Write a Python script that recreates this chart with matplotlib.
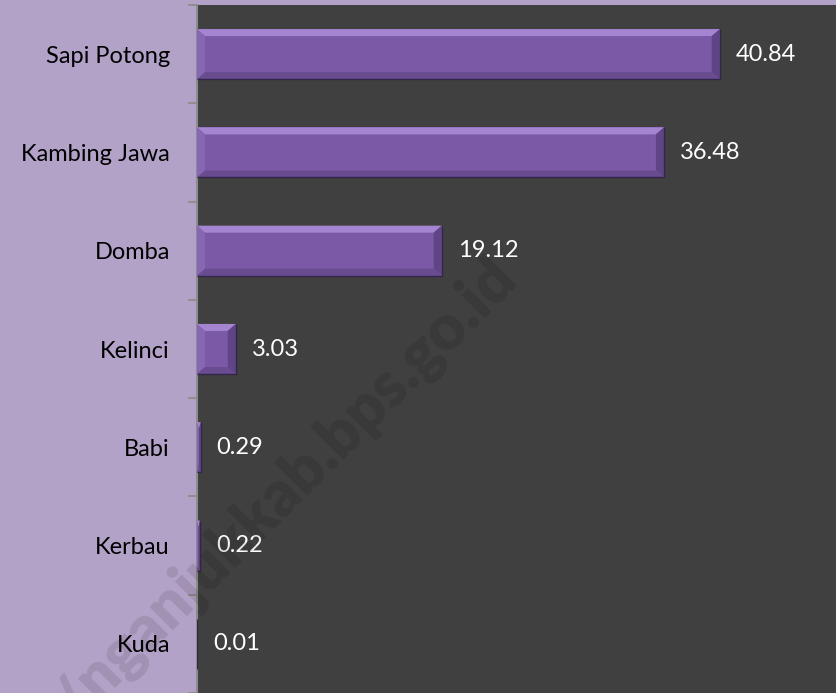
import matplotlib
matplotlib.use("Agg")
import matplotlib.pyplot as plt
from matplotlib.patches import Polygon

categories = ["Sapi Potong", "Kambing Jawa", "Domba", "Kelinci", "Babi", "Kerbau", "Kuda"]
values = [40.84, 36.48, 19.12, 3.03, 0.29, 0.22, 0.01]
value_labels = ["40.84", "36.48", "19.12", "3.03", "0.29", "0.22", "0.01"]

W, H = 837, 693
fig = plt.figure(figsize=(W / 100, H / 100), dpi=100, facecolor="#B3A2C7")
ax = fig.add_axes([197 / W, 0, 1 - 197 / W, 688 / H])
ax.set_facecolor("#404040")

FONT = "Lato"
bar_h = 0.51
ypos = list(range(len(categories)))
ax.barh(ypos, values, height=bar_h, color="#7C59A6", edgecolor="none", zorder=2)

ax.set_xlim(0, 50)
ax.set_ylim(len(categories) - 0.5, -0.5)

# bevel decoration built from the bars' own data coordinates
px_x = 50 / (W - 197)
px_y = 7 / 688
bw_x, bw_y = 8 * px_x, 7 * px_y
for y, v in zip(ypos, values):
    if v <= 0:
        continue
    t, b = y - bar_h / 2, y + bar_h / 2
    bx = min(bw_x, v / 2)
    by = bw_y
    top = Polygon([(0, t), (v, t), (v - bx, t + by), (bx, t + by)], closed=True,
                  facecolor="#A584D2", edgecolor="none", zorder=3)
    left = Polygon([(0, t), (bx, t + by), (bx, b - by), (0, b)], closed=True,
                   facecolor="#8767B3", edgecolor="none", zorder=3)
    right = Polygon([(v, t), (v, b), (v - bx, b - by), (v - bx, t + by)], closed=True,
                    facecolor="#5F4488", edgecolor="none", zorder=3)
    bottom = Polygon([(0, b), (bx, b - by), (v - bx, b - by), (v, b)], closed=True,
                     facecolor="#694C90", edgecolor="none", zorder=3)
    for p in (top, left, right, bottom):
        ax.add_patch(p)
    ax.plot([v, v, 0], [t, b, b], color="#33244A", lw=1.0, zorder=4, solid_capstyle="butt")

for y, v, lab in zip(ypos, values, value_labels):
    ax.annotate(lab, (v, y), xytext=(11.5, 0), textcoords="offset points",
                va="center", ha="left", color="white", fontsize=17, family=FONT, zorder=5)

ax.set_yticks(ypos)
ax.set_yticklabels(categories, fontsize=17, family=FONT, color="black")
ax.set_yticks([k + 0.5 for k in range(-1, len(categories))], minor=True)
ax.tick_params(axis="y", which="major", length=0, pad=19.5)
ax.tick_params(axis="y", which="minor", length=6.5, width=1.3, color="#8C8C8C", direction="out")
ax.set_xticks([])
for s in ("top", "right", "bottom"):
    ax.spines[s].set_visible(False)
ax.spines["left"].set_color("#8C8C8C")
ax.spines["left"].set_linewidth(1.5)

fig.text(520 / W, 1 - 280 / H, "https://nganjukkab.bps.go.id", rotation=45,
         rotation_mode="anchor", ha="right", va="baseline", fontsize=45,
         fontweight="heavy", family=FONT, color="black", alpha=0.1, zorder=10)

fig.savefig("out.png", dpi=100, facecolor=fig.get_facecolor())
